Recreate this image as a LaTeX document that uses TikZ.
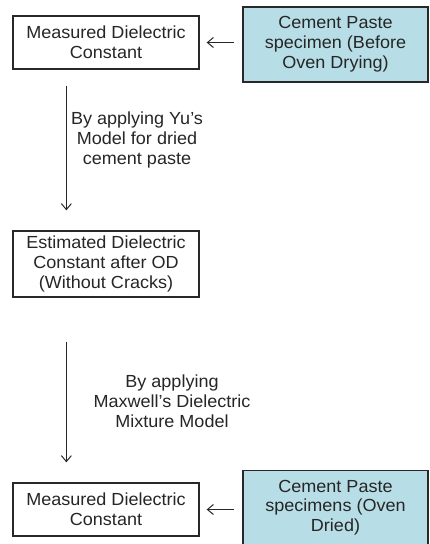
\documentclass[tikz,border=0pt]{standalone}
\usepackage{fontspec}
\setmainfont[FakeStretch=1.03]{Liberation Sans}
\usetikzlibrary{arrows.meta}
\definecolor{cyanfill}{RGB}{183,221,230}
\definecolor{edge}{RGB}{40,40,40}
\begin{document}
\begin{tikzpicture}[x=1pt,y=-1pt, font=\fontsize{17.5}{19.8}\selectfont,
  box/.style={draw=edge, line width=1.3pt, fill=white, align=center, minimum width=186pt, inner sep=0pt, text=black!85},
  cbox/.style={box, fill=cyanfill, minimum width=185pt},
  lab/.style={align=center, text=black!85, inner sep=0pt},
  arr/.style={draw=edge, line width=1pt, -{Straight Barb[length=6pt,width=10pt]}}]
\clip (0,0) rectangle (429,544);
\fill[white] (0,0) rectangle (429,544);
\node[box, minimum height=53pt] (b1) at (106,42.5) {Measured Dielectric\\Constant};
\node[cbox, minimum height=75pt] (c1) at (335.5,44.5) {Cement Paste\\specimen (Before\\Oven Drying)};
\node[box, minimum height=66pt] (b2) at (106,264) {Estimated Dielectric\\Constant after OD\\(Without Cracks)};
\node[box, minimum height=53pt] (b3) at (106,509.5) {Measured Dielectric\\Constant};
\node[cbox, minimum height=90pt, anchor=north] (c3) at (335.5,470) {};
\node[lab] (c3t) at (335.5,507.5) {Cement Paste\\specimens (Oven\\Dried)};
\node[lab] (l1) at (137,140) {By applying Yu’s\\Model for dried\\cement paste};
\node[lab] (l2) at (172,401.5) {By applying\\Maxwell’s Dielectric\\Mixture Model};
\draw[arr, shorten <=8pt, shorten >=7pt] (c1.west |- b1.east) -- (b1.east);
\draw[arr, shorten <=8pt, shorten >=7pt] (c3.west |- b3.east) -- (b3.east);
\draw[arr, shorten <=16pt, shorten >=20pt] ([xshift=54pt]b1.south west) -- ([xshift=54pt]b2.north west);
\draw[arr, shorten <=44pt, shorten >=20pt] ([xshift=54pt]b2.south west) -- ([xshift=54pt]b3.north west);
\end{tikzpicture}
\end{document}
